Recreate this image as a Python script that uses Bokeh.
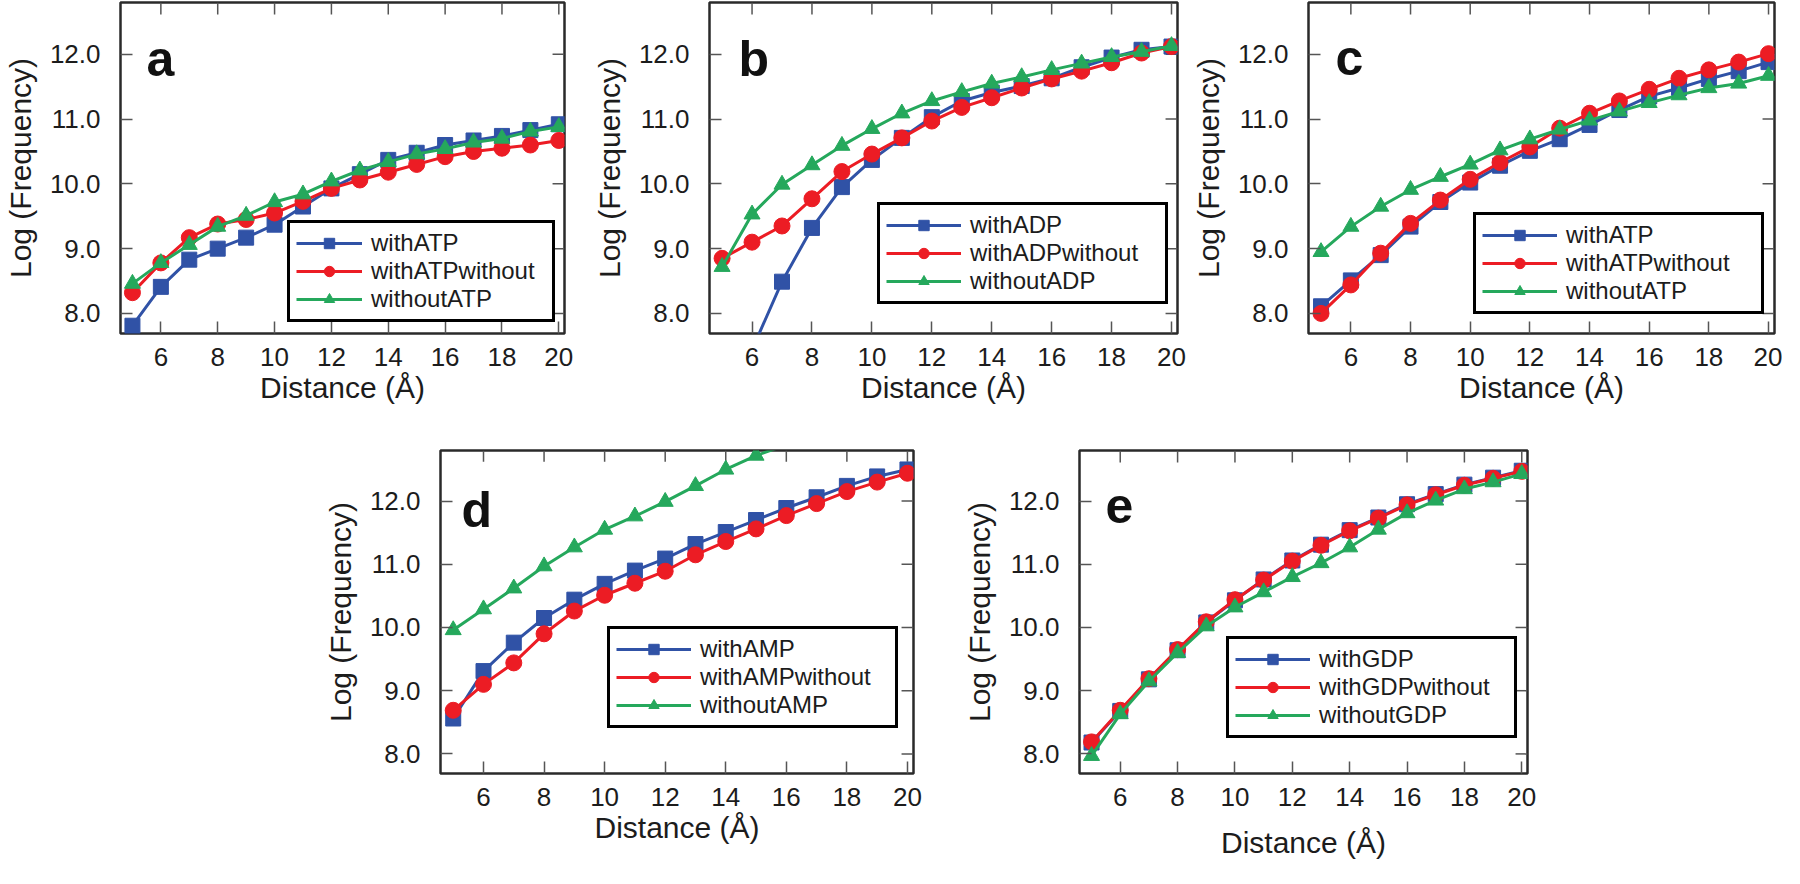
from bokeh.plotting import figure
from bokeh.models import (Range1d, FixedTicker, PrintfTickFormatter,
                          Legend, LegendItem, Label, Spacer)
from bokeh.layouts import row, column
from bokeh.embed import file_html
from bokeh.resources import INLINE

FONT = "Liberation Sans"
TXT = "#1c1c1c"
BLUE = "#3052a6"
RED = "#ec1c24"
GREEN = "#25a85c"
TICK = "#555555"

distance = [5, 6, 7, 8, 9, 10, 11, 12, 13, 14, 15, 16, 17, 18, 19, 20]
x_ticks = [6, 8, 10, 12, 14, 16, 18, 20]
y_ticks = [8, 9, 10, 11, 12]

# panel a (ATP)
a_with = [7.81, 8.41, 8.83, 9.00, 9.17, 9.37, 9.65, 9.93, 10.15, 10.37, 10.48, 10.60, 10.67, 10.74, 10.83, 10.92]
a_withwithout = [8.32, 8.78, 9.17, 9.38, 9.45, 9.55, 9.73, 9.93, 10.06, 10.18, 10.30, 10.42, 10.50, 10.55, 10.60, 10.67]
a_without = [8.46, 8.78, 9.06, 9.34, 9.51, 9.72, 9.84, 10.04, 10.21, 10.34, 10.46, 10.54, 10.64, 10.70, 10.81, 10.88]
# panel b (ADP)
b_with = [6.30, 7.44, 8.49, 9.32, 9.95, 10.37, 10.71, 11.03, 11.28, 11.41, 11.51, 11.63, 11.80, 11.95, 12.07, 12.12]
b_withwithout = [8.85, 9.10, 9.35, 9.77, 10.19, 10.46, 10.71, 10.97, 11.18, 11.33, 11.48, 11.62, 11.74, 11.87, 12.02, 12.12]
b_without = [8.72, 9.53, 9.99, 10.29, 10.59, 10.85, 11.09, 11.28, 11.42, 11.55, 11.65, 11.76, 11.86, 11.96, 12.04, 12.13]
# panel c (ATP)
c_with = [8.11, 8.51, 8.90, 9.34, 9.72, 10.02, 10.28, 10.51, 10.69, 10.91, 11.14, 11.35, 11.48, 11.62, 11.74, 11.88]
c_withwithout = [8.00, 8.44, 8.93, 9.39, 9.75, 10.07, 10.33, 10.57, 10.86, 11.09, 11.28, 11.46, 11.63, 11.76, 11.88, 12.01]
c_without = [8.95, 9.34, 9.65, 9.91, 10.11, 10.30, 10.52, 10.69, 10.84, 10.98, 11.12, 11.25, 11.37, 11.48, 11.55, 11.67]
# panel d (AMP)
d_with = [8.56, 9.31, 9.76, 10.15, 10.44, 10.69, 10.90, 11.09, 11.32, 11.51, 11.70, 11.89, 12.06, 12.24, 12.39, 12.50]
d_withwithout = [8.69, 9.10, 9.44, 9.90, 10.26, 10.51, 10.70, 10.89, 11.15, 11.36, 11.56, 11.77, 11.96, 12.15, 12.30, 12.44]
d_without = [9.96, 10.29, 10.62, 10.97, 11.27, 11.55, 11.76, 11.99, 12.24, 12.50, 12.72, 12.89, 13.08, 13.27, 13.45, 13.62]
# panel e (GDP)
e_with = [8.18, 8.68, 9.18, 9.64, 10.08, 10.43, 10.76, 11.06, 11.31, 11.54, 11.74, 11.95, 12.11, 12.26, 12.37, 12.48]
e_withwithout = [8.19, 8.69, 9.19, 9.65, 10.09, 10.44, 10.75, 11.05, 11.30, 11.53, 11.73, 11.94, 12.10, 12.25, 12.36, 12.47]
e_without = [7.97, 8.63, 9.15, 9.60, 10.02, 10.32, 10.56, 10.80, 11.02, 11.27, 11.55, 11.81, 12.01, 12.19, 12.30, 12.43]

X0, X1 = 4.58, 20.2
Y0, Y1 = 7.69, 12.8
TICK_LEN = 12


def panel(letter, ligand, s_with, s_ww, s_wo, fw, fh, bl, br, bt, bb,
          leg_pos, leg_w, glyph_w, let_dx, let_dy, title_standoff):
    p = figure(width=bl + fw + br, height=bt + fh + bb,
               x_range=Range1d(X0, X1), y_range=Range1d(Y0, Y1),
               output_backend="svg", toolbar_location=None, title=None,
               min_border_left=bl, min_border_right=br,
               min_border_top=bt, min_border_bottom=bb)
    p.grid.visible = False
    p.outline_line_color = "#2a2a2a"
    p.outline_line_width = 2.5
    p.background_fill_color = "white"
    p.border_fill_color = "white"

    xa = p.xaxis[0]
    xa.ticker = FixedTicker(ticks=x_ticks)
    xa.axis_label = "Distance (Å)"
    ya = p.yaxis[0]
    ya.ticker = FixedTicker(ticks=y_ticks)
    ya.formatter = PrintfTickFormatter(format="%.1f")
    ya.axis_label = "Log (Frequency)"
    for ax in (xa, ya):
        ax.axis_line_color = None
        ax.major_tick_in = TICK_LEN
        ax.major_tick_out = 0
        ax.major_tick_line_color = TICK
        ax.major_tick_line_width = 1.5
        ax.minor_tick_line_color = None
        ax.major_label_text_font = FONT
        ax.major_label_text_font_size = "26px"
        ax.major_label_text_color = TXT
        ax.axis_label_text_font = FONT
        ax.axis_label_text_font_size = "30px"
        ax.axis_label_text_font_style = "normal"
        ax.axis_label_text_color = TXT
    xa.major_label_standoff = 14
    xa.axis_label_standoff = title_standoff
    ya.major_label_standoff = 20
    ya.axis_label_standoff = 10

    # mirrored inward ticks on the top and right edges of the frame
    dy = TICK_LEN * (Y1 - Y0) / fh
    dx = TICK_LEN * (X1 - X0) / fw
    p.segment(x0=x_ticks, y0=[Y1] * len(x_ticks), x1=x_ticks, y1=[Y1 - dy] * len(x_ticks),
              line_color=TICK, line_width=1.5)
    p.segment(x0=[X1] * len(y_ticks), y0=y_ticks, x1=[X1 - dx] * len(y_ticks), y1=y_ticks,
              line_color=TICK, line_width=1.5)

    l1 = p.line(distance, s_with, line_color=BLUE, line_width=3)
    m1 = p.scatter(distance, s_with, marker="square", size=15, color=BLUE)
    l2 = p.line(distance, s_ww, line_color=RED, line_width=3)
    m2 = p.scatter(distance, s_ww, marker="circle", size=16, color=RED)
    l3 = p.line(distance, s_wo, line_color=GREEN, line_width=3)
    m3 = p.scatter(distance, s_wo, marker="triangle", size=16, color=GREEN)

    items = [
        LegendItem(label="with" + ligand, renderers=[l1, m1]),
        LegendItem(label="with" + ligand + "without", renderers=[l2, m2]),
        LegendItem(label="without" + ligand, renderers=[l3, m3]),
    ]
    pad, stand = 6, 9
    leg = Legend(items=items, location=leg_pos, margin=0, padding=pad, spacing=0,
                 glyph_width=glyph_w, glyph_height=26, label_height=26,
                 label_standoff=stand, label_width=leg_w - 2 * pad - glyph_w - stand,
                 label_text_font=FONT, label_text_font_size="24px", label_text_color=TXT,
                 border_line_color="black", border_line_width=3.5, border_line_alpha=1.0,
                 background_fill_color="white", background_fill_alpha=1.0)
    p.add_layout(leg)

    lx = X0 + let_dx * (X1 - X0) / fw
    ly = Y1 - let_dy * (Y1 - Y0) / fh
    p.add_layout(Label(x=lx, y=ly, text=letter, text_font=FONT, text_font_style="bold",
                       text_font_size="50px", text_color="#111111",
                       text_baseline="alphabetic", text_align="left"))
    return p


pa = panel("a", "ATP", a_with, a_withwithout, a_without,
           446, 333, 118, 25, 2, 90, (167, 11), 262, 66, 26, 57, 2)
pb = panel("b", "ADP", b_with, b_withwithout, b_without,
           470, 334, 118, 11, 2, 89, (168, 29), 285, 75, 29, 57, 2)
pc = panel("c", "ATP", c_with, c_withwithout, c_without,
           468, 331, 118, 8, 2, 92, (165, 19), 285, 75, 27, 55, 2)
pd = panel("d", "AMP", d_with, d_withwithout, d_without,
           475, 341, 118, 10, 22, 80, (167, 45), 285, 75, 21, 63, 2)
pe = panel("e", "GDP", e_with, e_withwithout, e_without,
           450, 323, 118, 10, 25, 95, (147, 35), 285, 75, 26, 55, 17)

layout = column(row(pa, pb, pc),
                row(Spacer(width=320, height=443), pd, Spacer(width=36, height=443), pe))

open("out.html", "w").write(file_html(layout, INLINE))
